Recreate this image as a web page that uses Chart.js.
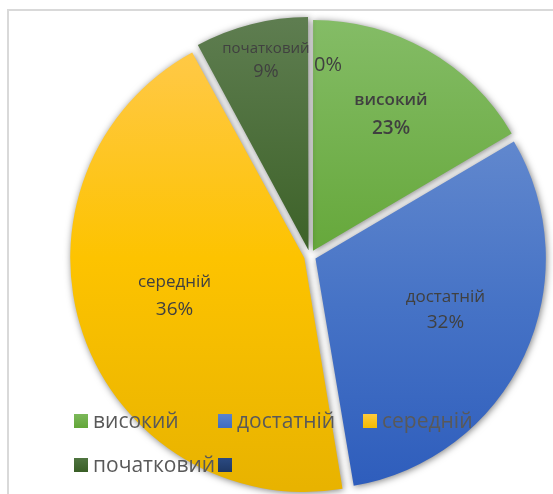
<!DOCTYPE html>
<html>
<head>
<meta charset="utf-8">
<script src="https://cdn.jsdelivr.net/npm/chart.js@4.4.0/dist/chart.umd.min.js"></script>
<style>
  html, body { margin: 0; padding: 0; background: #fff; }
</style>
</head>
<body>
<canvas id="pieChart" width="553" height="494"></canvas>
<script>
// рівні (категорії)
const levels = ['високий', 'достатній', 'середній', 'початковий', ''];
// частки секторів
const shares = [16.5, 30.8, 44.7, 7.9, 0];
// підписи даних у секторах
const pctLabels = ['23%', '32%', '36%', '9%', '0%'];

// кольори (градієнт зверху вниз)
const sliceStops = [
    [[0, '#84bc66'], [0.5, '#66a83b'], [1, '#5a9c30']],
    [[0, '#6a90d2'], [0.27, '#5f86cd'], [0.6, '#4673c6'], [1, '#2e5dbc']],
    [[0, '#ffca4a'], [0.1, '#ffc840'], [0.5, '#fdc300'], [1, '#e8b300']],
    [[0, '#5e7d50'], [0.5, '#3d6228'], [1, '#2f501c']],
    [[0, '#2c4c86'], [1, '#1f3864']]
];
const swatchColors = [
    ['#7cb85a', '#62a638'],
    ['#5a84cc', '#3f6cc2'],
    ['#ffca3a', '#f4bb00'],
    ['#4f7440', '#395e26'],
    ['#2b4a82', '#1f3864']
];
const R = 230;
const FONT = '"Open Sans", "Noto Sans", sans-serif';

function makeGrad(chart, i) {
    const a = chart.chartArea;
    const cy = (a.top + a.bottom) / 2;
    const g = chart.ctx.createLinearGradient(0, cy - R, 0, cy + R);
    sliceStops[i].forEach(s => g.addColorStop(s[0], s[1]));
    return g;
}

// рамка, тіні, підписи та легенда
const piePlugin = {
    id: 'piePlugin',
    beforeDraw(chart) {
        const ctx = chart.ctx;
        ctx.save();
        ctx.fillStyle = '#d9d9d9';
        ctx.fillRect(7, 9, 553, 2);
        ctx.fillRect(7, 9, 2, 494);
        ctx.restore();
    },
    beforeDatasetsDraw(chart) {
        const ctx = chart.ctx;
        ctx.save();
        ctx.shadowColor = 'rgba(0,0,0,0.5)';
        ctx.shadowBlur = 7;
        ctx.shadowOffsetX = 1;
        ctx.shadowOffsetY = 1;
    },
    afterDatasetsDraw(chart) {
        const ctx = chart.ctx;
        ctx.restore();

        // положення підписів: частка радіуса, зсув x, зсув y
        const place = [[0.71, 0, 0], [0.63, 4, -7], [0.6, -5, -5], [0.85, 4, -6], [0.83, 18, 0]];
        const nameFont = ['600 17px ' + FONT, '17px ' + FONT, '17px ' + FONT, '15px ' + FONT, ''];
        const pctFont = ['600 19px ' + FONT, '19px ' + FONT, '19px ' + FONT, '18px ' + FONT, '20px ' + FONT];
        const gap = [29, 25, 27, 23, 0];

        const meta = chart.getDatasetMeta(0);
        ctx.save();
        ctx.fillStyle = '#404040';
        ctx.textAlign = 'center';
        ctx.textBaseline = 'middle';
        meta.data.forEach((el, i) => {
            const p = el.getProps(['x', 'y', 'startAngle', 'endAngle']);
            const mid = (p.startAngle + p.endAngle) / 2;
            const x = p.x + Math.cos(mid) * R * place[i][0] + place[i][1];
            const y = p.y + Math.sin(mid) * R * place[i][0] + place[i][2];
            if (levels[i]) {
                ctx.font = nameFont[i];
                ctx.fillText(levels[i], x, y - gap[i] / 2);
                ctx.font = pctFont[i];
                ctx.fillText(pctLabels[i], x, y + gap[i] / 2);
            } else {
                ctx.font = pctFont[i];
                ctx.fillText(pctLabels[i], x, y);
            }
        });
        ctx.restore();
    },
    afterDraw(chart) {
        const ctx = chart.ctx;
        const cols = [74, 218, 363];
        const rows = [421, 465];
        ctx.save();
        ctx.textAlign = 'left';
        ctx.textBaseline = 'middle';
        ctx.font = '21px ' + FONT;
        levels.forEach((name, i) => {
            const x = cols[i % 3];
            const y = rows[Math.floor(i / 3)];
            const g = ctx.createLinearGradient(0, y - 7, 0, y + 7);
            g.addColorStop(0, swatchColors[i][0]);
            g.addColorStop(1, swatchColors[i][1]);
            ctx.fillStyle = g;
            ctx.fillRect(x, y - 7, 14, 14);
            ctx.fillStyle = '#595959';
            ctx.fillText(name, x + 19, y + 1);
        });
        ctx.restore();
    }
};

const pieChart = new Chart(document.getElementById('pieChart'), {
    type: 'pie',
    data: {
        labels: levels,
        datasets: [{
            data: shares,
            backgroundColor: (c) => c.chart.chartArea ? makeGrad(c.chart, c.dataIndex) : sliceStops[c.dataIndex][0][1],
            borderWidth: 0,
            offset: 24,
            hoverOffset: 0,
            radius: R
        }]
    },
    options: {
        responsive: false,
        animation: false,
        layout: {
            padding: { left: 67, right: 0, top: 18, bottom: 0 }
        },
        plugins: {
            legend: { display: false },
            tooltip: { enabled: false }
        }
    },
    plugins: [piePlugin]
});
</script>
</body>
</html>
